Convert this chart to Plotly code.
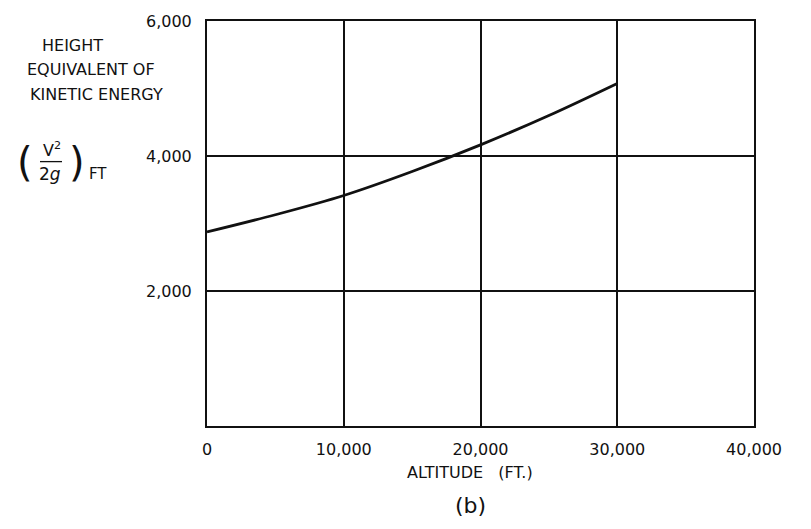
import plotly.graph_objects as go

# Height equivalent of kinetic energy (V^2 / 2g) against altitude
altitude_ft = [0, 5000, 10000, 15000, 20000, 25000, 30000]
ke_height_ft = [2875, 3130, 3415, 3770, 4165, 4600, 5075]

x_ticks = [0, 10000, 20000, 30000, 40000]
x_tick_text = ["0", "10,000", "20,000", "30,000", "40,000"]
y_ticks = [2000, 4000, 6000]
y_tick_text = ["2,000", "4,000", "6,000"]

W, H = 811, 529
L, R, T, B = 207, 57, 17, 103
FONT = "DejaVu Sans"
INK = "#111"


def px(x):
    return (x - L) / (W - L - R)


def py(y):
    return (H - B - y) / (H - T - B)


fig = go.Figure()
fig.add_trace(go.Scatter(
    x=altitude_ft, y=ke_height_ft, mode="lines",
    line=dict(color=INK, width=2.8, shape="spline", smoothing=1.0),
    showlegend=False, hoverinfo="skip",
))

axis_common = dict(
    showgrid=True, gridcolor=INK, gridwidth=1.8,
    showline=True, linecolor=INK, linewidth=2, mirror=True,
    zeroline=False, ticks="outside", tickcolor="rgba(0,0,0,0)",
    tickfont=dict(family=FONT, size=16, color=INK),
)

fig.update_xaxes(range=[0, 40000], tickvals=x_ticks, ticktext=x_tick_text,
                 ticklen=8, **axis_common)
fig.update_yaxes(range=[0, 6000], tickvals=y_ticks, ticktext=y_tick_text,
                 ticklen=10, **axis_common)

ann = []


def text(s, x, y, size=15, xanchor="center"):
    ann.append(dict(text=s, x=px(x), y=py(y), xref="paper", yref="paper",
                    xanchor=xanchor, yanchor="middle", showarrow=False,
                    font=dict(family=FONT, size=size, color=INK)))


text("HEIGHT", 72, 42, 16)
text("EQUIVALENT OF", 91, 66, 16)
text("KINETIC ENERGY", 96, 91, 16)
text("(", 25, 159, 40)
text(")", 77, 159, 40)
text("V<sup>2</sup>", 52, 147, 16)
text("2<i>g</i>", 50, 172, 17)
text("FT", 98, 172, 15)
text("ALTITUDE   (FT.)", 470, 473, 16)
text("(b)", 470, 506, 22)

fig.update_layout(
    width=W, height=H,
    margin=dict(l=L, r=R, t=T, b=B),
    paper_bgcolor="white", plot_bgcolor="white",
    annotations=ann,
    shapes=[dict(type="line", xref="paper", yref="paper",
                 x0=px(40), x1=px(62), y0=py(159), y1=py(159),
                 line=dict(color=INK, width=1.3))],
)

fig.write_html("out.html")
